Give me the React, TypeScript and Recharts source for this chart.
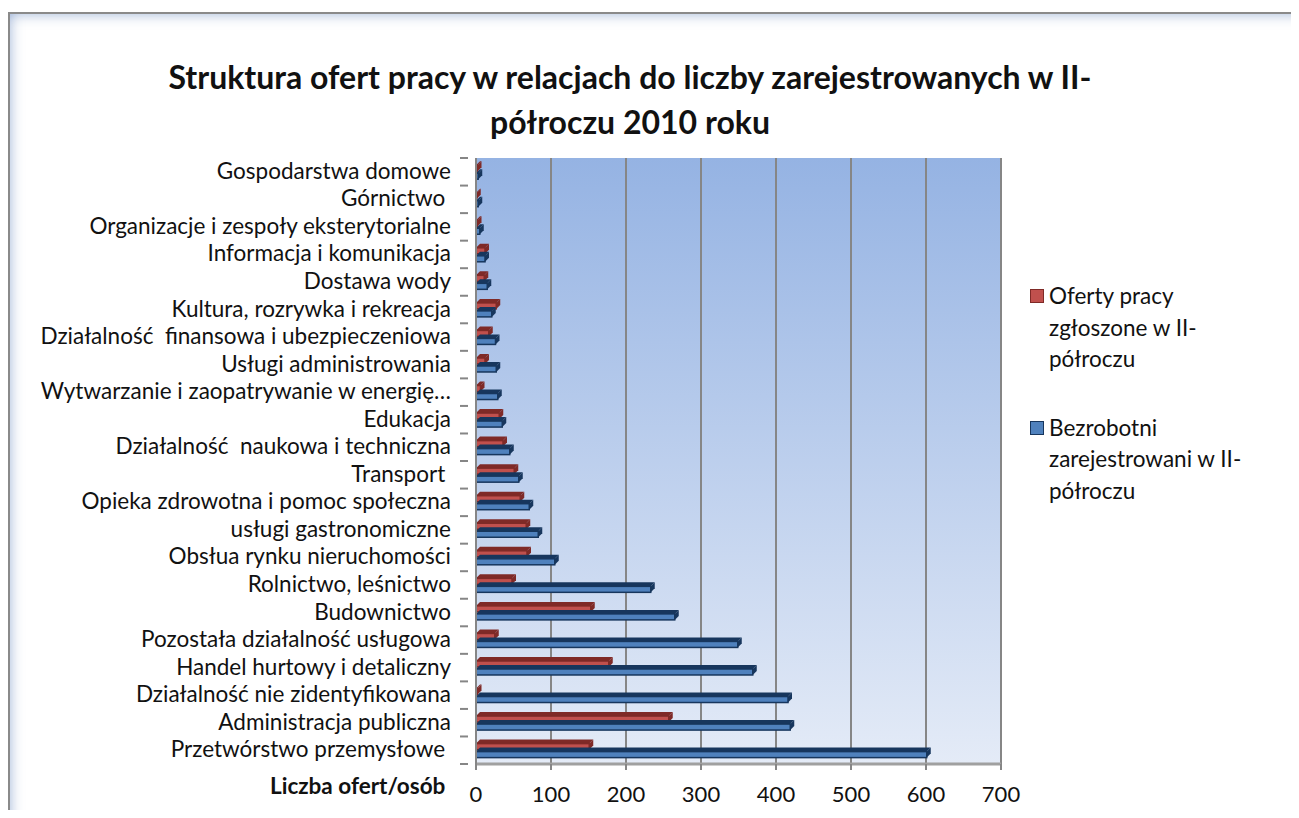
import { BarChart, Bar, XAxis, YAxis, CartesianGrid } from "recharts";

const categories = [
  "Gospodarstwa domowe",
  "Górnictwo ",
  "Organizacje i zespoły eksterytorialne",
  "Informacja i komunikacja",
  "Dostawa wody",
  "Kultura, rozrywka i rekreacja",
  "Działalność  finansowa i ubezpieczeniowa",
  "Usługi administrowania",
  "Wytwarzanie i zaopatrywanie w energię…",
  "Edukacja",
  "Działalność  naukowa i techniczna",
  "Transport ",
  "Opieka zdrowotna i pomoc społeczna",
  "usługi gastronomiczne",
  "Obsłua rynku nieruchomości",
  "Rolnictwo, leśnictwo",
  "Budownictwo",
  "Pozostała działalność usługowa",
  "Handel hurtowy i detaliczny",
  "Działalność nie zidentyfikowana",
  "Administracja publiczna",
  "Przetwórstwo przemysłowe ",
];

const offers = [2, 1, 2, 12, 11, 27, 17, 12, 6, 31, 36, 51, 59, 67, 68, 48, 153, 25, 177, 2, 257, 151];
const unemployed = [3, 3, 5, 12, 15, 21, 26, 27, 29, 35, 45, 57, 71, 83, 105, 233, 265, 349, 369, 416, 419, 601];

const xTicks = [0, 100, 200, 300, 400, 500, 600, 700];

const seriesLegend = [
  { key: "offers", lines: ["Oferty pracy", "zgłoszone w II-", "półroczu"], fill: "#c0504d", edge: "#7f2a27" },
  { key: "unemployed", lines: ["Bezrobotni", "zarejestrowani w II-", "półroczu"], fill: "#4f81bd", edge: "#17365d" },
];

const data = categories.map((name, i) => ({
  name,
  offers: offers[i],
  unemployed: unemployed[i],
}));

const FONT = "Lato, 'Open Sans', sans-serif";
const DEPTH = 4;

function Bar3D(props: any) {
  const { x, y, width, height, fill, edge } = props;
  if (width == null || height == null) return null;
  const w = Math.max(width, 0);
  const d = DEPTH;
  return (
    <g>
      <polygon
        points={`${x},${y} ${x + d},${y - d} ${x + w + d},${y - d} ${x + w},${y}`}
        fill={edge}
      />
      <polygon
        points={`${x + w},${y} ${x + w + d},${y - d} ${x + w + d},${y + height - d} ${x + w},${y + height}`}
        fill={edge}
      />
      <rect x={x} y={y} width={w} height={height} fill={fill} stroke={edge} strokeWidth={1.5} />
    </g>
  );
}

function CategoryTick(props: any) {
  const { x, y, payload } = props;
  const half = 27.6 / 2;
  return (
    <g>
      <text
        x={x - 17}
        y={y}
        dy={7}
        textAnchor="end"
        fill="#111"
        fontSize={22.5}
        fontFamily={FONT}
        style={{ whiteSpace: "pre" }}
      >
        {payload.value}
      </text>
      <line x1={x - 8} x2={x} y1={y + half} y2={y + half} stroke="#868686" strokeWidth={2} />
      {payload.index === 0 && (
        <line x1={x - 8} x2={x} y1={y - half} y2={y - half} stroke="#868686" strokeWidth={2} />
      )}
    </g>
  );
}

export default function App() {
  return (
    <div
      style={{
        position: "relative",
        margin: -8,
        width: 1299,
        height: 818,
        overflow: "hidden",
        background: "#fff",
        fontFamily: FONT,
      }}
    >
      <div
        style={{
          position: "absolute",
          left: 8,
          top: 12,
          width: 1330,
          height: 840,
          border: "2px solid #8a8a8a",
          boxShadow: "inset 0 10px 12px -8px rgba(120,150,200,0.5), inset 10px 0 12px -8px rgba(120,150,200,0.5)",
        }}
      />
      <div
        style={{
          position: "absolute",
          left: 0,
          width: 1260,
          top: 54,
          textAlign: "center",
          fontWeight: 700,
          fontSize: 32,
          lineHeight: "45px",
          color: "#111",
        }}
      >
        Struktura ofert pracy w relacjach do liczby zarejestrowanych w II-
        <br />
        półroczu 2010 roku
      </div>
      <div
        style={{
          position: "absolute",
          left: 270,
          top: 772,
          fontWeight: 700,
          fontSize: 22.5,
          color: "#111",
        }}
      >
        Liczba ofert/osób
      </div>
      <div
        style={{
          position: "absolute",
          left: 1030,
          top: 280,
          fontSize: 22.5,
          color: "#111",
        }}
      >
        {seriesLegend.map((s) => (
          <div key={s.key} style={{ display: "flex", marginBottom: 37 }}>
            <div
              style={{
                width: 12,
                height: 12,
                marginTop: 9,
                marginRight: 5,
                background: s.fill,
                border: `1.5px solid ${s.edge}`,
              }}
            />
            <div style={{ lineHeight: "31.5px" }}>
              {s.lines.map((l) => (
                <div key={l}>{l}</div>
              ))}
            </div>
          </div>
        ))}
      </div>
      <div style={{ position: "absolute", left: 0, top: 0 }}>
        <BarChart
          width={1299}
          height={818}
          data={data}
          layout="vertical"
          margin={{ top: 158, right: 298, bottom: 0, left: 6 }}
          barCategoryGap="26%"
          barGap={2}
        >
          <defs>
            <linearGradient id="wallBg" x1="0" y1="0" x2="0" y2="1">
              <stop offset="0%" stopColor="#95b3e3" />
              <stop offset="100%" stopColor="#e4ebf7" />
            </linearGradient>
          </defs>
          <CartesianGrid
            horizontal={false}
            stroke="#868686"
            strokeWidth={2}
            fill="url(#wallBg)"
            fillOpacity={1}
          />
          <XAxis
            type="number"
            domain={[0, 700]}
            ticks={xTicks}
            height={54}
            tickMargin={16}
            tick={{ fontSize: 22, fill: "#111", fontFamily: FONT }}
            axisLine={{ stroke: "#a0a0a0", strokeWidth: 3 }}
            tickLine={{ stroke: "#868686", strokeWidth: 2 }}
            tickSize={6}
          />
          <YAxis
            type="category"
            dataKey="name"
            width={470}
            interval={0}
            tick={<CategoryTick />}
            tickLine={false}
            axisLine={{ stroke: "#868686", strokeWidth: 2 }}
          />
          <Bar
            dataKey="offers"
            name="Oferty pracy zgłoszone w II-półroczu"
            fill="#c0504d"
            isAnimationActive={false}
            shape={(p: any) => <Bar3D {...p} edge="#7f2a27" />}
          />
          <Bar
            dataKey="unemployed"
            name="Bezrobotni zarejestrowani w II-półroczu"
            fill="#4f81bd"
            isAnimationActive={false}
            shape={(p: any) => <Bar3D {...p} edge="#17365d" />}
          />
        </BarChart>
      </div>
    </div>
  );
}
